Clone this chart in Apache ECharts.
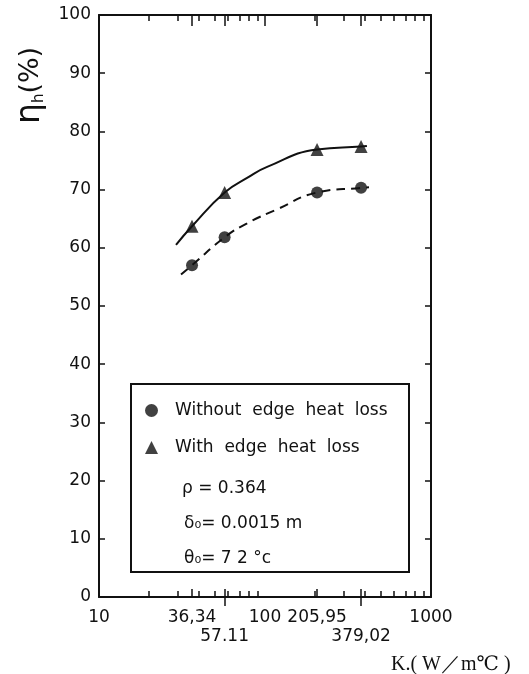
<!DOCTYPE html>
<html>
<head>
<meta charset="utf-8">
<script src="https://cdn.jsdelivr.net/npm/echarts@6/dist/echarts.min.js"></script>
<style>
  html, body { margin: 0; background: #fff; }
  #chart { width: 529px; height: 674px; }
</style>
</head>
<body>
<div id="chart"></div>
<script>
// measured points, K in W/m°C and eta_h in %
const kValues = [36.34, 57.11, 205.95, 379.02];
const etaWithout = [57.0, 61.8, 69.5, 70.3];
const etaWith = [63.7, 69.5, 76.9, 77.4];

// hand drawn curves (they run a little past the end points)
const curveWithK = [29.1, 36.34, 57.11, 78, 103, 205.95, 379.02, 411];
const curveWithEta = [60.5, 63.7, 69.5, 72.0, 73.9, 76.9, 77.4, 77.5];
const curveWithoutK = [31.2, 36.34, 57.11, 78, 118, 205.95, 379.02, 423];
const curveWithoutEta = [55.4, 57.0, 61.8, 64.2, 66.6, 69.5, 70.3, 70.4];

// x axis ticks and labels
const minorTicks = [20, 30, 40, 50, 60, 70, 80, 90, 200, 300, 400, 500, 600, 700, 800, 900];
const labelsRow1 = [10, 36.34, 100, 205.95, 1000];
const labelsRow1Text = ['10', '36,34', '100', '205,95', '1000'];
const labelsRow2 = [57.11, 379.02];
const labelsRow2Text = ['57.11', '379,02'];

const ink = '#111';
const font = 'DejaVu Sans';
const lg = v => Math.log10(v);
const pick = (vals, texts) => v => {
    const i = vals.findIndex(k => Math.abs(lg(k) - v) < 1e-6);
    return i < 0 ? '' : texts[i];
};

const line = {lineStyle: {color: ink, width: 2}};
const tick = {color: ink, width: 1.5};

// helper axes living in log10 space, only for the odd tick positions
const auxX = (position, extra) => Object.assign({
    type: 'value', min: 1, max: 3, position: position,
    axisLine: {show: false},
    splitLine: {show: false},
    axisLabel: {show: false},
}, extra);

const chart = echarts.init(document.getElementById('chart'));

chart.setOption({
    animation: false,
    backgroundColor: '#fff',
    grid: {left: 99, top: 15, width: 332, height: 582},
    xAxis: [
        {
            type: 'log', logBase: 10, min: 10, max: 1000, position: 'bottom',
            axisLine: line, axisTick: {show: false}, axisLabel: {show: false},
            splitLine: {show: false}, minorTick: {show: false}
        },
        auxX('bottom', {
            axisTick: {inside: true, length: 6, lineStyle: tick,
                customValues: minorTicks.map(lg)},
            axisLabel: {show: true, customValues: labelsRow1.map(lg),
                formatter: pick(labelsRow1, labelsRow1Text),
                margin: 12, fontSize: 17, color: ink, fontFamily: font}
        }),
        auxX('bottom', {
            axisTick: {inside: true, length: 8, lineStyle: tick,
                customValues: kValues.map(lg)}
        }),
        auxX('bottom', {
            axisTick: {inside: false, length: 9, lineStyle: tick,
                customValues: labelsRow2.map(lg)},
            axisLabel: {show: true, customValues: labelsRow2.map(lg),
                formatter: pick(labelsRow2, labelsRow2Text),
                margin: 31, fontSize: 17, color: ink, fontFamily: font}
        }),
        {
            type: 'log', logBase: 10, min: 10, max: 1000, position: 'top',
            axisLine: line, axisTick: {show: false}, axisLabel: {show: false},
            splitLine: {show: false}, minorTick: {show: false}
        },
        auxX('top', {
            axisTick: {inside: true, length: 6, lineStyle: tick,
                customValues: minorTicks.map(lg)}
        }),
        auxX('top', {
            axisTick: {inside: true, length: 11, lineStyle: tick,
                customValues: kValues.concat([100]).map(lg)}
        })
    ],
    yAxis: [
        {
            type: 'value', min: 0, max: 100, interval: 10, position: 'left',
            axisLine: {show: true, lineStyle: {color: ink, width: 2}},
            axisTick: {inside: true, length: 6, lineStyle: tick},
            axisLabel: {margin: 8, fontSize: 17, color: ink, fontFamily: font},
            splitLine: {show: false}
        },
        {
            type: 'value', min: 0, max: 100, interval: 10, position: 'right',
            axisLine: {show: true, lineStyle: {color: ink, width: 2}},
            axisTick: {inside: true, length: 6, lineStyle: tick},
            axisLabel: {show: false},
            splitLine: {show: false}
        }
    ],
    legend: {
        data: ['Without edge heat loss', 'With edge heat loss'],
        orient: 'vertical',
        left: 145, top: 402, padding: 0,
        itemWidth: 13, itemHeight: 13, itemGap: 20,
        selectedMode: false,
        formatter: name => name.split(' ').join('  '),
        textStyle: {fontSize: 17, color: ink, fontFamily: font, padding: [0, 0, 0, 12]}
    },
    graphic: [
        {
            type: 'rect', z: 1,
            shape: {x: 131, y: 384, width: 278, height: 188},
            style: {fill: 'transparent', stroke: ink, lineWidth: 2}
        },
        {
            type: 'text', left: 182, top: 480,
            style: {text: 'ρ = 0.364', font: '17px ' + font, fill: ink}
        },
        {
            type: 'text', left: 184, top: 515,
            style: {text: 'δ₀= 0.0015 m', font: '17px ' + font, fill: ink}
        },
        {
            type: 'text', left: 184, top: 550,
            style: {text: 'θ₀= 7 2 °c', font: '17px ' + font, fill: ink}
        },
        {
            type: 'text', x: 14, y: 124, rotation: Math.PI / 2,
            style: {
                text: '{e|η}{s|h}{p|(%)}',
                fill: ink,
                rich: {
                    e: {fontSize: 33, fontFamily: font, color: ink},
                    s: {fontSize: 15, fontFamily: font, color: ink, verticalAlign: 'bottom', padding: [16, 0, 0, 0]},
                    p: {fontSize: 27, fontFamily: font, color: ink}
                }
            }
        },
        {
            type: 'text', left: 391, top: 655,
            style: {text: 'K.( W／m℃ )', font: '20px "Liberation Serif", "DejaVu Serif", serif', fill: ink}
        }
    ],
    series: [
        {
            name: 'Without edge heat loss', type: 'scatter', z: 4,
            symbol: 'circle', symbolSize: 12, itemStyle: {color: ink},
            data: kValues.map((k, i) => [k, etaWithout[i]])
        },
        {
            name: 'With edge heat loss', type: 'scatter', z: 4,
            symbol: 'triangle', symbolSize: 13, itemStyle: {color: ink},
            data: kValues.map((k, i) => [k, etaWith[i]])
        },
        {
            type: 'line', smooth: 0.5, symbol: 'none', silent: true,
            lineStyle: {color: ink, width: 2},
            data: curveWithK.map((k, i) => [k, curveWithEta[i]])
        },
        {
            type: 'line', smooth: 0.5, symbol: 'none', silent: true,
            lineStyle: {color: ink, width: 2, type: [9, 6]},
            data: curveWithoutK.map((k, i) => [k, curveWithoutEta[i]])
        }
    ]
});

window.addEventListener('resize', () => chart.resize());
</script>
</body>
</html>
